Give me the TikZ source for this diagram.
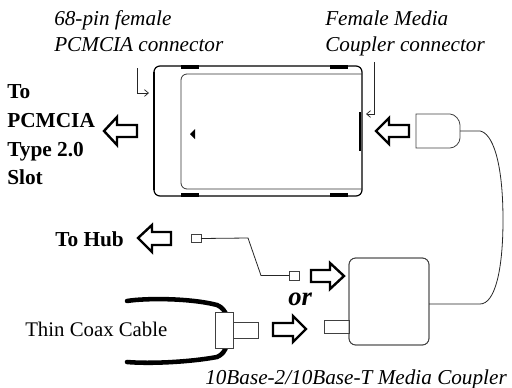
\documentclass[tikz,border=0pt]{standalone}
\usepackage{fontspec}
\setmainfont{Liberation Serif}
\usetikzlibrary{arrows.meta,calc}
\tikzset{
  x=0.75pt,y=-0.75pt,
  part/.style={draw=black!75,line width=0.6pt,fill=white,inner sep=0pt,outer sep=0pt,minimum width=#1},
  wire/.style={draw=black!85,line width=0.6pt},
  bigarrow/.style={draw=black,line width=1.8pt,fill=white,miter limit=10},
  callout/.style={draw=black!85,line width=0.55pt,-{Straight Barb[length=3pt,width=5pt]}},
  thick cable/.style={draw=black,line width=3.4pt,line cap=round},
  ital/.style={font=\itshape\fontsize{15.9}{18}\selectfont,anchor=base west,inner sep=0pt},
  boldlab/.style={font=\bfseries\fontsize{16}{18}\selectfont,anchor=base west,inner sep=0pt},
  plainlab/.style={font=\fontsize{15.6}{18}\selectfont,anchor=base west,inner sep=0pt},
  orlab/.style={font=\bfseries\itshape\fontsize{20}{24}\selectfont,anchor=base west,inner sep=0pt},
  notch/.style={fill=black,draw=none},
}
\begin{document}
\begin{tikzpicture}
\useasboundingbox (0,0) rectangle (512,387);
% card
\draw[draw=black,line width=0.9pt,rounded corners=4.5pt] (154,66) rectangle (362,196);
\draw[draw=black!80,line width=0.6pt,rounded corners=4.5pt] (362,74) -- (181,74) -- (181,189) -- (362,189);
\draw[draw=black,line width=1.5pt] (154,72) -- (154,190);
\draw[draw=black,line width=1.5pt] (360,112) -- (360,151);
\fill[notch] (181,65) rectangle (199,69);
\fill[notch] (330,65) rectangle (348,69);
\fill[notch] (181,193) rectangle (199,197);
\fill[notch] (330,193) rectangle (348,197);
\fill[notch] (190,134) -- (195,129) -- (195,139) -- cycle;
% block arrows
\draw[bigarrow] (104,131) -- (117,117) -- (117,125) -- (137,125) -- (137,137) -- (117,137) -- (117,145) -- cycle;
\draw[bigarrow] (376,131) -- (389,118) -- (389,125) -- (409,125) -- (409,137) -- (389,137) -- (389,144) -- cycle;
\draw[bigarrow] (138,238) -- (152,225) -- (152,232) -- (171,232) -- (171,245) -- (152,245) -- (152,252) -- cycle;
\draw[bigarrow] (344,276) -- (330,263) -- (330,270) -- (311,270) -- (311,282) -- (330,282) -- (330,289) -- cycle;
\draw[bigarrow] (306,329) -- (293,316) -- (293,323) -- (273,323) -- (273,336) -- (293,336) -- (293,342) -- cycle;
% coupler
\node[part,rounded corners=5pt,minimum width=80*0.75pt,minimum height=87*0.75pt] (coupler) at (389,301.5) {};
\node[part,minimum width=25*0.75pt,minimum height=13*0.75pt] (stub) at (336.5,326.5) {};
\draw[draw=black!75,line width=0.6pt,rounded corners=5pt] (349,300) -- (349,258) -- (429,258) -- (429,345) -- (349,345) -- (349,300);
% media plug
\coordinate (plugE) at (460,131);
\draw[draw=black!75,line width=0.6pt] (416,114) -- (450,114) .. controls (455,114) and (460,120) .. (460,125) -- (plugE) -- (460,138) .. controls (460,143) and (455,148) .. (450,148) -- (416,148) -- cycle;
\coordinate (couplerE) at (coupler.east |- 0,304);
\draw[wire] (plugE) -- (480,131) .. controls (492,133) and (503,160) .. (503,220) .. controls (503,270) and (495,304) .. (480,304) -- (couplerE);
% hub cable
\node[part,minimum width=10*0.75pt,minimum height=7.5*0.75pt] (hubA) at (196,238.5) {};
\node[part,minimum width=10*0.75pt,minimum height=9*0.75pt] (hubB) at (294,275.5) {};
\draw[wire] (hubA.east) -- (248,238) -- (261,275.5) -- (hubB.west);
% coax
\draw[thick cable] (127,301) .. controls (145,298) and (190,298) .. (217,305) .. controls (222,307) and (225,311) .. (227,316);
\draw[thick cable] (127,362) .. controls (150,364) and (190,362) .. (217,357) .. controls (222,355) and (225,351) .. (227,345);
\node[part,minimum width=18*0.75pt,minimum height=36*0.75pt] (coaxbody) at (224,330) {};
\node[part,minimum width=25*0.75pt,minimum height=16*0.75pt] (coaxtip) at (245.5,330) {};
% callouts
\coordinate (a1) at (137,68); \coordinate (a2) at (149,93);
\draw[callout] (a1) |- (a2);
\coordinate (b1) at (374,62); \coordinate (b2) at (366,114);
\draw[callout] (b1) |- (b2);
% labels
\node[ital] (l1) at (54,25) {68-pin female};
\node[ital] (l2) at (54,51) {PCMCIA connector};
\node[ital] (l3) at (325,25) {Female Media};
\node[ital] (l4) at (325,51) {Coupler connector};
\node[ital] (l5) at (205,384) {10Base-2/10Base-T Media Coupler};
\node[boldlab] (t1) at (7,98) {To};
\node[boldlab] (t2) at (7,127) {PCMCIA};
\node[boldlab] (t3) at (7,156) {Type 2.0};
\node[boldlab] (t4) at (7,184) {Slot};
\node[boldlab] (hub) at (55,246) {To Hub};
\node[plainlab] (coax) at (25,336) {Thin Coax Cable};
\node[orlab] (orl) at (288,305) {or};
\end{tikzpicture}
\end{document}
